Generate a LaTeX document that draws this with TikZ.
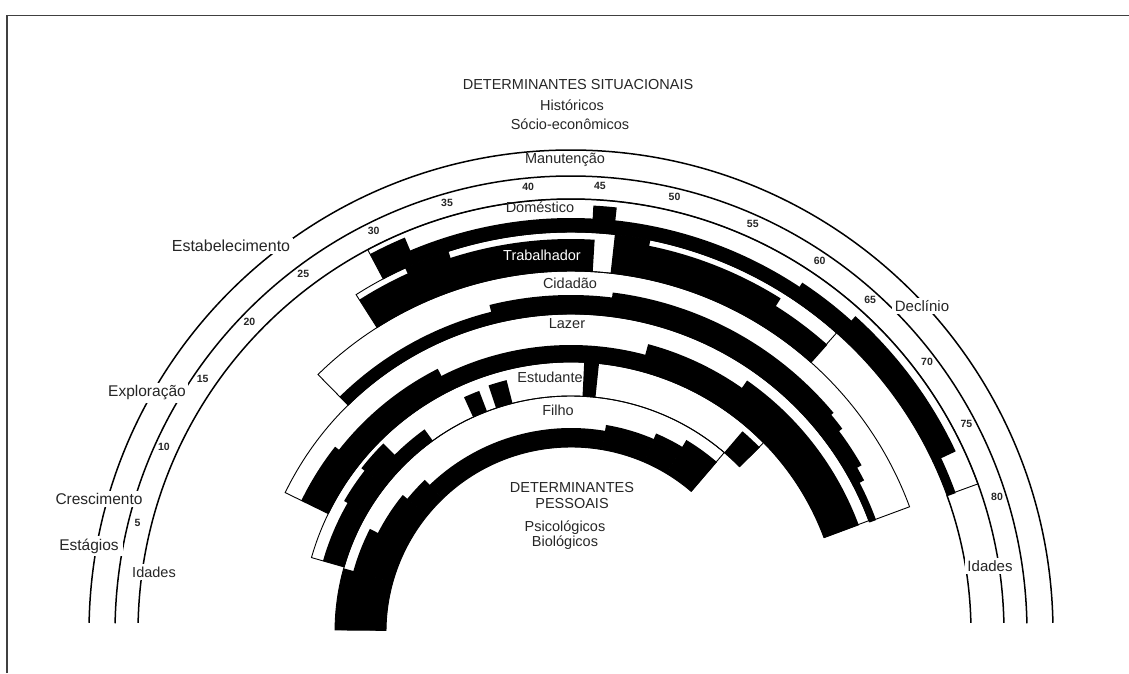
\documentclass[tikz,border=0pt]{standalone}
\usepackage{fontspec}
\setmainfont{Liberation Sans}
\newcommand\blkseg[4]{\fill[black] (#1:#4pt) arc[start angle=#1,end angle={#2-0.15},radius=#4pt] -- ({#2-0.15}:#3pt) arc[start angle={#2-0.15},end angle=#1,radius=#3pt] -- cycle;}
\newcommand\bandout[4]{\draw[bandline] (#1:#3pt) -- (#1:#4pt) arc[start angle=#1,end angle=#2,radius=#4pt] -- (#2:#3pt) arc[start angle=#2,end angle=#1,radius=#3pt] -- cycle;}
\begin{document}
\begin{tikzpicture}[x=1pt,y=1pt,
  lbl/.style={font=\fontsize{14.5}{16}\selectfont, inner sep=1pt, text=black!85},
  stg/.style={font=\fontsize{15.5}{17}\selectfont, fill=white, inner sep=2.5pt, text=black!85},
  num/.style={font=\fontsize{10.5}{11}\selectfont\bfseries, inner sep=0.3pt, fill=white, text=black!85},
  arcline/.style={line width=1.5pt},
  bandline/.style={line width=0.9pt}]
\useasboundingbox (0,0) rectangle (1129,673);
% frame
\draw[line width=1.6pt, black!75] (6.7,0) -- (6.7,657.3) -- (1129,657.3);
\begin{scope}[shift={(571,41)}]
  % outer scale arcs
  \draw[arcline] (178.9:482pt) arc[start angle=178.9,end angle=1.1,radius=482pt];
  \draw[arcline] (178.9:456pt) arc[start angle=178.9,end angle=1.1,radius=456pt];
  \draw[arcline] (178.8:433pt) arc[start angle=178.8,end angle=1.2,radius=433pt];
  \draw[arcline] (20:400pt) arc[start angle=20,end angle=1.3,radius=400pt];
  % band outlines
  \bandout{118}{20}{400}{433}
  \bandout{122.5}{48.4}{361}{400}
  \bandout{134.5}{20.3}{318}{361}
  \bandout{154}{20.5}{270}{318}
  \bandout{164}{44.5}{236}{270}
  \bandout{179.5}{49.5}{185}{236}
  % Filho
  \blkseg{179.5}{164.5}{185}{236}
  \blkseg{164.5}{153}{185}{226}
  \blkseg{153}{141}{185}{217}
  \blkseg{141}{134}{185}{211}
  \blkseg{134}{80.4}{185}{204}
  \blkseg{80.4}{66.8}{185}{210}
  \blkseg{66.8}{59}{185}{216}
  \blkseg{59}{49.5}{185}{224}
  % Estudante
  \blkseg{164}{150}{236}{258}
  \blkseg{150}{142}{236}{262}
  \blkseg{142}{135}{236}{266}
  \blkseg{135}{126}{236}{250}
  \blkseg{114.5}{111}{236}{258}
  \blkseg{108.5}{104.5}{236}{260}
  \blkseg{87.2}{84.2}{236}{270}
  \blkseg{49.5}{44.5}{236}{264}
  % Lazer
  \blkseg{154}{142}{270}{300}
  \blkseg{142}{117}{270}{295}
  \blkseg{117}{75}{270}{287}
  \blkseg{75}{55}{270}{298}
  \blkseg{55}{20.5}{270}{307}
  % Cidadao
  \blkseg{134.5}{104}{318}{330}
  \blkseg{104}{83}{318}{337}
  \blkseg{83}{40}{318}{342}
  \blkseg{40}{37}{318}{339}
  \blkseg{37}{30}{318}{335}
  \blkseg{30}{27.5}{318}{330}
  \blkseg{27.5}{20.3}{318}{325}
  % Trabalhador
  \blkseg{122.5}{114.5}{361}{394}
  \blkseg{114.5}{108}{361}{400}
  \blkseg{108}{86.7}{361}{393}
  \blkseg{83.7}{78.7}{361}{400}
  \blkseg{78.7}{58}{361}{394}
  \blkseg{58}{48.4}{361}{385}
  % Domestico
  \blkseg{118}{113}{400}{428}
  \blkseg{113}{87}{400}{414}
  \blkseg{87}{84}{400}{427}
  \blkseg{84}{56.5}{400}{414}
  \blkseg{56.5}{48}{400}{419}
  \blkseg{48}{25.3}{400}{425}
  \blkseg{25.3}{20}{400}{409}
  % age numbers
  \foreach \a/\t in {5/165.9,10/155.6,15/145.5,20/136,25/126.8,30/116.2,35/106.1,40/95.5,45/86.3,50/76.6,55/66,60/56.2,65/48,70/37.2,75/27.8,80/17.6}
    \node[num] (n\a) at (\t:447pt) {\a};
\end{scope}
% stage labels
\node[stg] (cres) at (99,174) {Crescimento};
\node[stg, inner xsep=4pt] (estg) at (89,127) {Estágios};
\node[stg, font=\fontsize{14.5}{16}\selectfont] (idl) at (154,101) {Idades};
\node[stg] (expl) at (147,280) {Exploração};
\node[stg, font=\fontsize{16}{18}\selectfont] (estb) at (231,427) {Estabelecimento};
\node[lbl] (manu) at (565,513) {Manutenção};
\node[stg, font=\fontsize{15}{17}\selectfont] (decl) at (922,367) {Declínio};
\node[stg, font=\fontsize{15}{17}\selectfont] (idr) at (990,107) {Idades};
% role labels
\node[lbl] (dom) at (540,466) {Doméstico};
\node[lbl, text=white] (trab) at (542,418) {Trabalhador};
\node[lbl] (cid) at (570,390) {Cidadão};
\node[lbl] (laz) at (567,349) {Lazer};
\node[lbl] (estu) at (550,296) {Estudante};
\node[lbl] (fil) at (558,263) {Filho};
% headers
\node[lbl] (dsit) at (578,588) {DETERMINANTES SITUACIONAIS};
\node[lbl] (hist) at (572,568) {Históricos};
\node[lbl] (soc) at (570,549) {Sócio-econômicos};
\node[lbl, align=center] (dpes) at (572,177) {DETERMINANTES\\PESSOAIS};
\node[lbl] (psi) at (565,145) {Psicológicos};
\node[lbl] (bio) at (565,130) {Biológicos};
\end{tikzpicture}
\end{document}
